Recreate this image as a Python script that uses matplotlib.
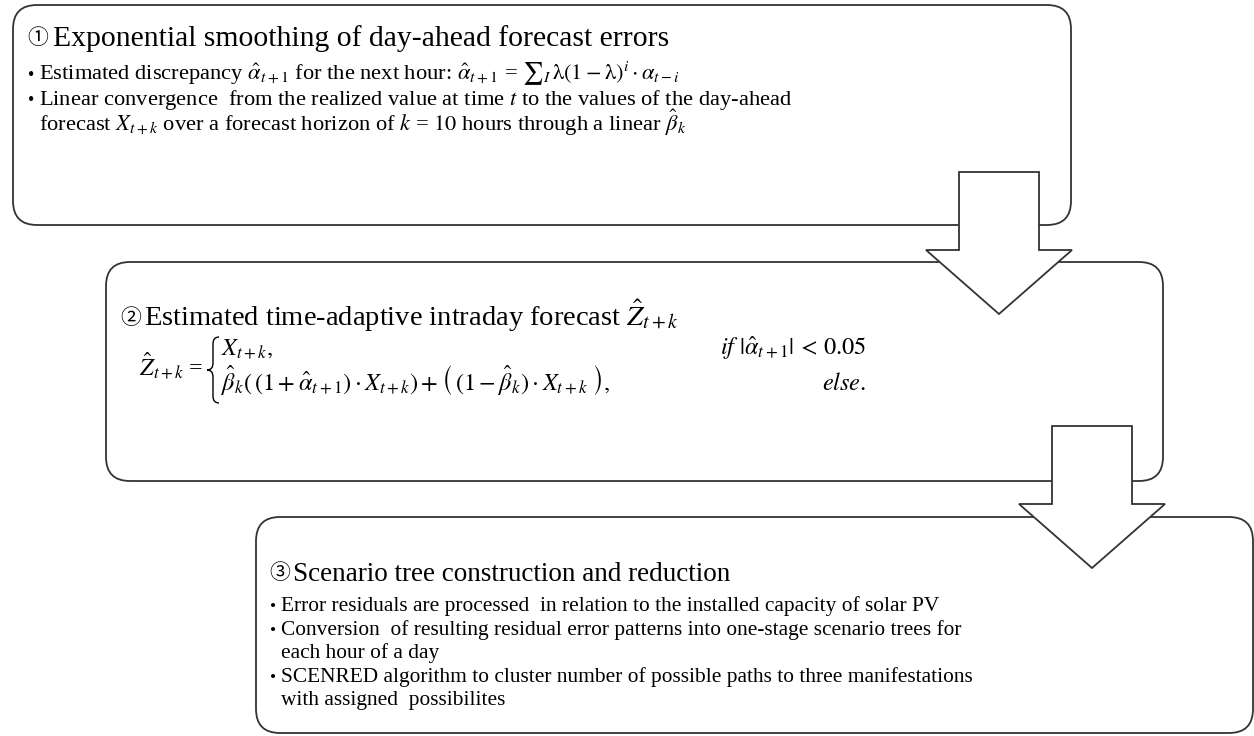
import matplotlib.pyplot as plt
from matplotlib.patches import FancyBboxPatch, Polygon, PathPatch
from matplotlib.path import Path

plt.rcParams['mathtext.fontset'] = 'stix'
plt.rcParams['font.family'] = 'Liberation Serif'

# texts of the three steps
titles = ['Exponential smoothing of day-ahead forecast errors',
          r'Estimated time-adaptive intraday forecast $\hat{Z}_{t+k}$',
          'Scenario tree construction and reduction']
marks = ['\u2460', '\u2461', '\u2462']

bullets1 = [r'Estimated discrepancy $\hat{\alpha}_{t+1}$ for the next hour: '
            r'$\hat{\alpha}_{t+1}$ = $∑_I\,\mathrm{\lambda}(1-\mathrm{\lambda})^i\cdot\alpha_{t-i}$',
            r'Linear convergence  from the realized value at time $t$ to the values of the day-ahead',
            r'forecast $X_{t+k}$ over a forecast horizon of $k$ = $\mathit{10}$ hours through a linear $\hat{\beta}_k$']
has_dot1 = [True, True, False]
eq_lhs = r'$\hat{Z}_{t+k}$ ='
eq_cases = [r'$X_{t+k},$',
            r'$\hat{\beta}_k\left(\,(1+\hat{\alpha}_{t+1})\cdot X_{t+k}\right)+\left(\,(1-\hat{\beta}_k)\cdot X_{t+k}\ \right),$']
eq_cond = [r'$if\ |\hat{\alpha}_{t+1}|\, <\, 0.05$', r'$else.$']
bullets3 = ['Error residuals are processed  in relation to the installed capacity of solar PV',
            'Conversion  of resulting residual error patterns into one-stage scenario trees for',
            'each hour of a day',
            'SCENRED algorithm to cluster number of possible paths to three manifestations',
            'with assigned  possibilites']
has_dot3 = [True, True, False, True, False]

W, H = 1254, 736
fig = plt.figure(figsize=(W / 100, H / 100), dpi=100)
ax = fig.add_axes([0, 0, 1, 1])
ax.set_xlim(0, W)
ax.set_ylim(H, 0)
ax.axis('off')

edge = '#333333'
# boxes: x, y, w, h
boxes = [(13, 5, 1058, 220), (106, 262, 1057, 219), (256, 517, 997, 216)]
for (x, y, w, h) in boxes:
    ax.add_patch(FancyBboxPatch((x, y), w, h, boxstyle='round,pad=0,rounding_size=24',
                                fc='white', ec=edge, lw=1.3, zorder=1))

# block arrows between the boxes (center x, shaft top)
def block_arrow(cx, top):
    sw, sl, hw, hh = 40, 78, 73, 64
    pts = [(cx - sw, top), (cx + sw, top), (cx + sw, top + sl), (cx + hw, top + sl),
           (cx, top + sl + hh), (cx - hw, top + sl), (cx - sw, top + sl)]
    ax.add_patch(Polygon(pts, closed=True, fc='white', ec=edge, lw=1.3, zorder=3))

block_arrow(999, 172)
block_arrow(1092, 426)

cjk = ['Noto Sans CJK JP', 'DejaVu Sans']

def bullet_lines(x, ys, lines, dots, size):
    for s, yb, d in zip(lines, ys, dots):
        if d:
            ax.text(x, yb, '\u2022', fontsize=size * 0.8, va='baseline')
        ax.text(x + 11, yb, s, fontsize=size, va='baseline')

# box 1
ax.text(27, 44, marks[0], fontsize=15, family=cjk, va='baseline')
ax.text(53, 46, titles[0], fontsize=21.3, va='baseline')
bullet_lines(28, [80, 105, 131], bullets1, has_dot1, 16.2)

# box 2
ax.text(120, 324, marks[1], fontsize=15, family=cjk, va='baseline')
ax.text(144, 326, titles[1], fontsize=20.5, va='baseline')
ax.text(203, 375, eq_lhs, fontsize=17.5, va='baseline', ha='right')
# curly brace of the case distinction
xr, xm, xt, y0, y1 = 219, 213, 207, 337, 403
ym = (y0 + y1) / 2
brace = Path([(xr, y0), (xm, y0), (xm, y0 + 7), (xm, ym - 7), (xm, ym), (xt, ym),
              (xm, ym), (xm, ym + 7), (xm, y1 - 7), (xm, y1), (xr, y1)],
             [Path.MOVETO, Path.CURVE3, Path.CURVE3, Path.LINETO, Path.CURVE3, Path.CURVE3,
              Path.CURVE3, Path.CURVE3, Path.LINETO, Path.CURVE3, Path.CURVE3])
ax.add_patch(PathPatch(brace, fc='none', ec='black', lw=1.0, zorder=4))
ax.text(221, 355, eq_cases[0], fontsize=17.5, va='baseline')
ax.text(221, 390, eq_cases[1], fontsize=17.5, va='baseline')
ax.text(866, 355, eq_cond[0], fontsize=17.5, va='baseline', ha='right')
ax.text(866, 390, eq_cond[1], fontsize=17.5, va='baseline', ha='right')

# box 3
ax.text(269, 579, marks[2], fontsize=15, family=cjk, va='baseline')
ax.text(293, 581, titles[2], fontsize=19.5, va='baseline')
bullet_lines(270, [611, 635, 658, 682, 705], bullets3, has_dot3, 15.4)

fig.savefig('out.png', dpi=100)
